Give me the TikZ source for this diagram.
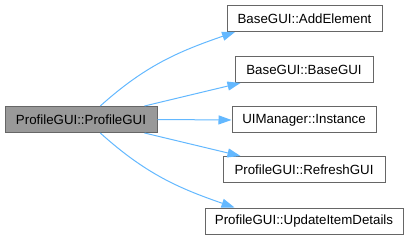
\documentclass[tikz,border=0pt]{standalone}
\usepackage{fontspec}
\setmainfont{Liberation Sans}
\usepackage{tikz}
\usetikzlibrary{arrows.meta}
\usepackage{xcolor}
\definecolor{edgeblue}{HTML}{63B8FF}
\definecolor{rootgray}{HTML}{999999}
\definecolor{framegray}{HTML}{666666}
\tikzset{
  fn/.style={
    draw=framegray,
    line width=1pt,
    fill=white,
    inner sep=0pt,
    minimum height=26pt,
    font=\fontsize{13.3}{16}\selectfont
  },
  rootfn/.style={
    fn,
    fill=rootgray
  },
  call/.style={
    draw=edgeblue,
    line width=1pt,
    -{Triangle[length=13pt,width=9pt]}
  },
}

\begin{document}
\begin{tikzpicture}[x=1pt,y=-1pt]
\useasboundingbox (0,0) rectangle (409,240);

%%%%%%%%%%%%%%%%%%%%%%%%%%%%%%%%%%%%%%%%%%%%%%%%%%%%%%%%%%%%%% Nodes
\node[rootfn, minimum width=152pt] (profile) at (81,119.5) {ProfileGUI::ProfileGUI};

\node[fn, minimum width=155pt] (addelement) at (304.5,18.5) {BaseGUI::AddElement};
\node[fn, minimum width=138pt] (basegui) at (304,69.5) {BaseGUI::BaseGUI};
\node[fn, minimum width=144pt] (instance) at (304,120) {UIManager::Instance};
\node[fn, minimum width=162pt] (refresh) at (304,169.5) {ProfileGUI::RefreshGUI};
\node[fn, minimum width=198pt] (update) at (304,221) {ProfileGUI::UpdateItemDetails};

%%%%%%%%%%%%%%%%%%%%%%%%%%%%%%%%%%%%%%%%%%%%%%%%%%%%%%%%%%%%%% Calls
\draw[call] (profile.35) to[out=42, in=199] (addelement.191);
\draw[call] (profile.12) -- (basegui.192);
\draw[call] (profile.east) -- (instance.west);
\draw[call] (profile.-12) -- (refresh.168);
\draw[call] (profile.-35) to[out=-42, in=161] (update.169);

\end{tikzpicture}
\end{document}
